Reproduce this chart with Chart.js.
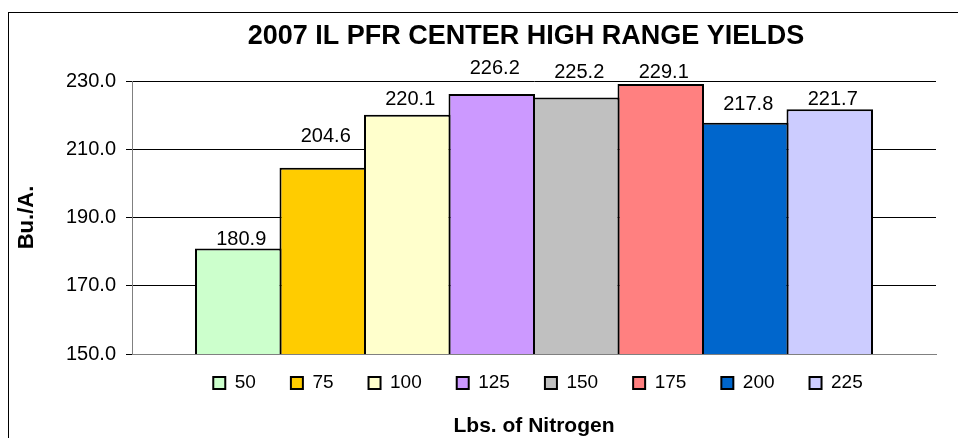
<!DOCTYPE html>
<html><head><meta charset="utf-8">
<script src="https://cdn.jsdelivr.net/npm/chart.js@4"></script>
<style>html,body{margin:0;padding:0;background:#fff;} canvas{display:block;}</style>
</head><body>
<canvas id="c" width="958" height="438" style="width:958px;height:438px"></canvas>
<script>
// ---- data ----
const chartTitle = '2007 IL PFR CENTER HIGH RANGE YIELDS';
const yTitle = 'Bu./A.';
const xTitle = 'Lbs. of Nitrogen';
const categories = [''];
const nitrogenRates = ['50', '75', '100', '125', '150', '175', '200', '225'];
const yields = [180.9, 204.6, 220.1, 226.2, 225.2, 229.1, 217.8, 221.7];
const yMin = 150, yMax = 230, yStep = 20;

// ---- styles / layout ----
const barColors = ['#CCFFCC', '#FFCC00', '#FFFFCC', '#CC99FF', '#C0C0C0', '#FF8080', '#0066CC', '#CCCCFF'];
const labelGaps = [4, 26, 10, 20, 19, 6, 13, 4];
const FONT = "'Liberation Sans', Arial, sans-serif";
const W = 958, H = 438;
const areaLeft = 132, areaRight = 936, areaTop = 81, areaBottom = 354;
const frameX = 8, frameY = 12;
const titleSize = 27, titleCenterY = 36.6, titleCenterX = 526;
const xTitleSize = 21, xTitleCenterY = 426;
const legendSize = 19, legendPad = 35, legendCenterY = 383, legendShift = 4;

Chart.defaults.font.family = FONT;
Chart.defaults.color = '#000';

const titleLH = titleSize * 1.2;
const titlePadTop = titleCenterY - frameY - titleLH / 2;
const titlePadBottom = areaTop - frameY - titlePadTop - titleLH;
const xTitleLH = xTitleSize * 1.2;
const xTitlePadTop = xTitleCenterY - areaBottom - xTitleLH / 2;
const xScaleH = xTitlePadTop + xTitleLH;
const legendH = legendSize + legendPad + 10;
const bottomPad = H - areaBottom - xScaleH - legendH;

const catPct = 676 / (areaRight - areaLeft);
const barPct = (676 / 8 + 2) / (676 / 8);

const datasets = nitrogenRates.map((r, i) => ({
  label: r,
  data: [yields[i]],
  backgroundColor: barColors[i],
  borderColor: '#000',
  borderWidth: 2,
  borderSkipped: false,
  categoryPercentage: catPct,
  barPercentage: barPct
}));

const framePlugin = {
  id: 'frame',
  beforeDraw(chart) {
    const ctx = chart.ctx;
    ctx.save();
    ctx.fillStyle = '#fff';
    ctx.fillRect(0, 0, W, H);
    ctx.strokeStyle = '#000';
    ctx.lineWidth = 1;
    ctx.strokeRect(frameX + 0.5, frameY + 0.5, 2000, 2000);
    ctx.restore();
  }
};

const layoutTweak = {
  id: 'layoutTweak',
  afterLayout(chart) {
    const lg = chart.legend;
    if (lg) {
      lg.top = legendCenterY - legendSize / 2 - legendPad;
      lg.bottom = lg.top + lg.height;
      lg.left += legendShift; lg.right += legendShift;
    }
    const t = chart.titleBlock;
    if (t) {
      const w = t.right - t.left;
      t.left = titleCenterX - w / 2; t.right = titleCenterX + w / 2;
    }
  }
};

const valueLabels = {
  id: 'valueLabels',
  afterDatasetsDraw(chart) {
    const ctx = chart.ctx;
    ctx.save();
    ctx.font = '20px ' + FONT;
    ctx.fillStyle = '#000';
    ctx.textAlign = 'center';
    ctx.textBaseline = 'alphabetic';
    chart.data.datasets.forEach((ds, i) => {
      const el = chart.getDatasetMeta(i).data[0];
      ctx.fillText(ds.data[0].toFixed(1), el.x + 3, el.y - labelGaps[i]);
    });
    ctx.restore();
  }
};

const chart = new Chart(document.getElementById('c'), {
  type: 'bar',
  data: { labels: categories, datasets },
  options: {
    responsive: false,
    animation: false,
    devicePixelRatio: 1,
    layout: { padding: { left: frameX, right: W - areaRight, top: frameY, bottom: bottomPad } },
    scales: {
      x: {
        ticks: { display: false },
        grid: { display: false, drawTicks: false },
        border: { display: true, color: '#808080', width: 1 },
        title: { display: true, text: xTitle, color: '#000',
          font: { size: xTitleSize, weight: 'bold', lineHeight: 1.2 },
          padding: { top: xTitlePadTop, bottom: 0 } }
      },
      y: {
        min: yMin, max: yMax,
        ticks: { stepSize: yStep, padding: 10, color: '#000', font: { size: 20 },
          callback: v => Number(v).toFixed(1) },
        grid: { color: c => (c.tick && c.tick.value === yMin) ? '#808080' : '#000',
          tickColor: '#000', tickLength: 6, lineWidth: 1 },
        border: { color: '#808080', width: 1 },
        title: { display: true, text: yTitle, color: '#000',
          font: { size: 22, weight: 'bold', lineHeight: 1.2 },
          padding: { top: 5.5, bottom: 0 } },
        afterFit: s => { s.width = areaLeft - frameX; }
      }
    },
    plugins: {
      title: { display: true, text: chartTitle, color: '#000',
        font: { size: titleSize, weight: 'bold', lineHeight: 1.2 },
        padding: { top: titlePadTop, bottom: titlePadBottom } },
      legend: { position: 'bottom', fullSize: false,
        labels: { boxWidth: 12, boxHeight: 12, padding: legendPad, color: '#000',
          font: { size: legendSize } } },
      tooltip: { enabled: false }
    }
  },
  plugins: [framePlugin, layoutTweak, valueLabels]
});

// fine-tune so the plot area lands exactly where intended
for (let k = 0; k < 2; k++) {
  const ca = chart.chartArea;
  const pad = chart.options.layout.padding;
  const dB = ca.bottom - areaBottom, dT = areaTop - ca.top;
  if (Math.abs(dB) < 0.1 && Math.abs(dT) < 0.1) break;
  pad.bottom += dB;
  chart.options.plugins.title.padding.bottom += dT;
  chart.update();
}
</script>
</body></html>
